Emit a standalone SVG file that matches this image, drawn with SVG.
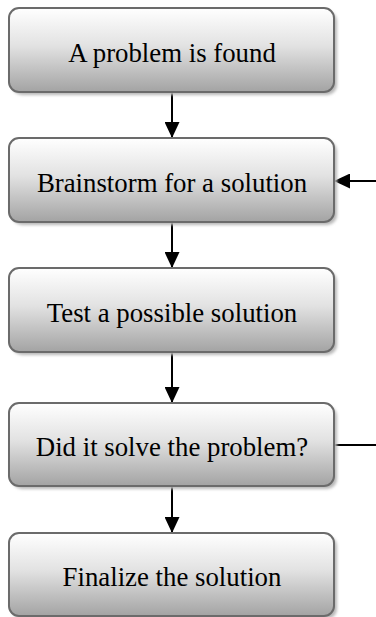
<svg xmlns="http://www.w3.org/2000/svg" width="376" height="617" viewBox="0 0 376 617">
<defs>
<linearGradient id="g" x1="0" y1="0" x2="0" y2="1">
<stop offset="0" stop-color="#ffffff"/>
<stop offset="0.45" stop-color="#e2e2e2"/>
<stop offset="1" stop-color="#a3a3a3"/>
</linearGradient>
<filter id="blur" x="-10%" y="-10%" width="120%" height="130%"><feGaussianBlur stdDeviation="1.5"/></filter>
<marker id="ah" viewBox="0 0 16 15" refX="16" refY="7.5" markerWidth="16" markerHeight="15" markerUnits="userSpaceOnUse" orient="auto">
<path d="M0,0 L16,7.5 L0,15 Z" fill="#000"/>
</marker>
</defs>
<style>
.sh{fill:#b8b8b8;filter:url(#blur);}
.box{fill:url(#g);stroke:#6b6b6b;stroke-width:2;}
.lbl{font-family:"Liberation Serif","Times New Roman",serif;font-size:26.8px;fill:#000;text-anchor:middle;}
.c{stroke:#000;stroke-width:2;fill:none;}
</style>
<g id="connectors">
<line class="c" x1="172" y1="92" x2="172" y2="138" marker-end="url(#ah)"/>
<line class="c" x1="172" y1="222" x2="172" y2="268" marker-end="url(#ah)"/>
<line class="c" x1="172" y1="352" x2="172" y2="403" marker-end="url(#ah)"/>
<line class="c" x1="172" y1="486" x2="172" y2="533" marker-end="url(#ah)"/>
<line class="c" x1="376" y1="181" x2="334" y2="181" marker-end="url(#ah)"/>
<line class="c" x1="334" y1="445" x2="376" y2="445"/>
</g>
<g id="n1">
<rect class="sh" x="12" y="11" width="325" height="84" rx="10"/>
<rect class="box" x="9" y="8" width="325" height="84" rx="10"/>
<text class="lbl" x="172" y="62">A problem is found</text>
</g>
<g id="n2">
<rect class="sh" x="12" y="141" width="325" height="84" rx="10"/>
<rect class="box" x="9" y="138" width="325" height="84" rx="10"/>
<text class="lbl" x="172" y="192">Brainstorm for a solution</text>
</g>
<g id="n3">
<rect class="sh" x="12" y="271" width="325" height="84" rx="10"/>
<rect class="box" x="9" y="268" width="325" height="84" rx="10"/>
<text class="lbl" x="172" y="322">Test a possible solution</text>
</g>
<g id="n4">
<rect class="sh" x="12" y="406" width="325" height="83" rx="10"/>
<rect class="box" x="9" y="403" width="325" height="83" rx="10"/>
<text class="lbl" x="172" y="456">Did it solve the problem?</text>
</g>
<g id="n5">
<rect class="sh" x="12" y="536" width="325" height="83" rx="10"/>
<rect class="box" x="9" y="533" width="325" height="83" rx="10"/>
<text class="lbl" x="172" y="586">Finalize the solution</text>
</g>
</svg>
